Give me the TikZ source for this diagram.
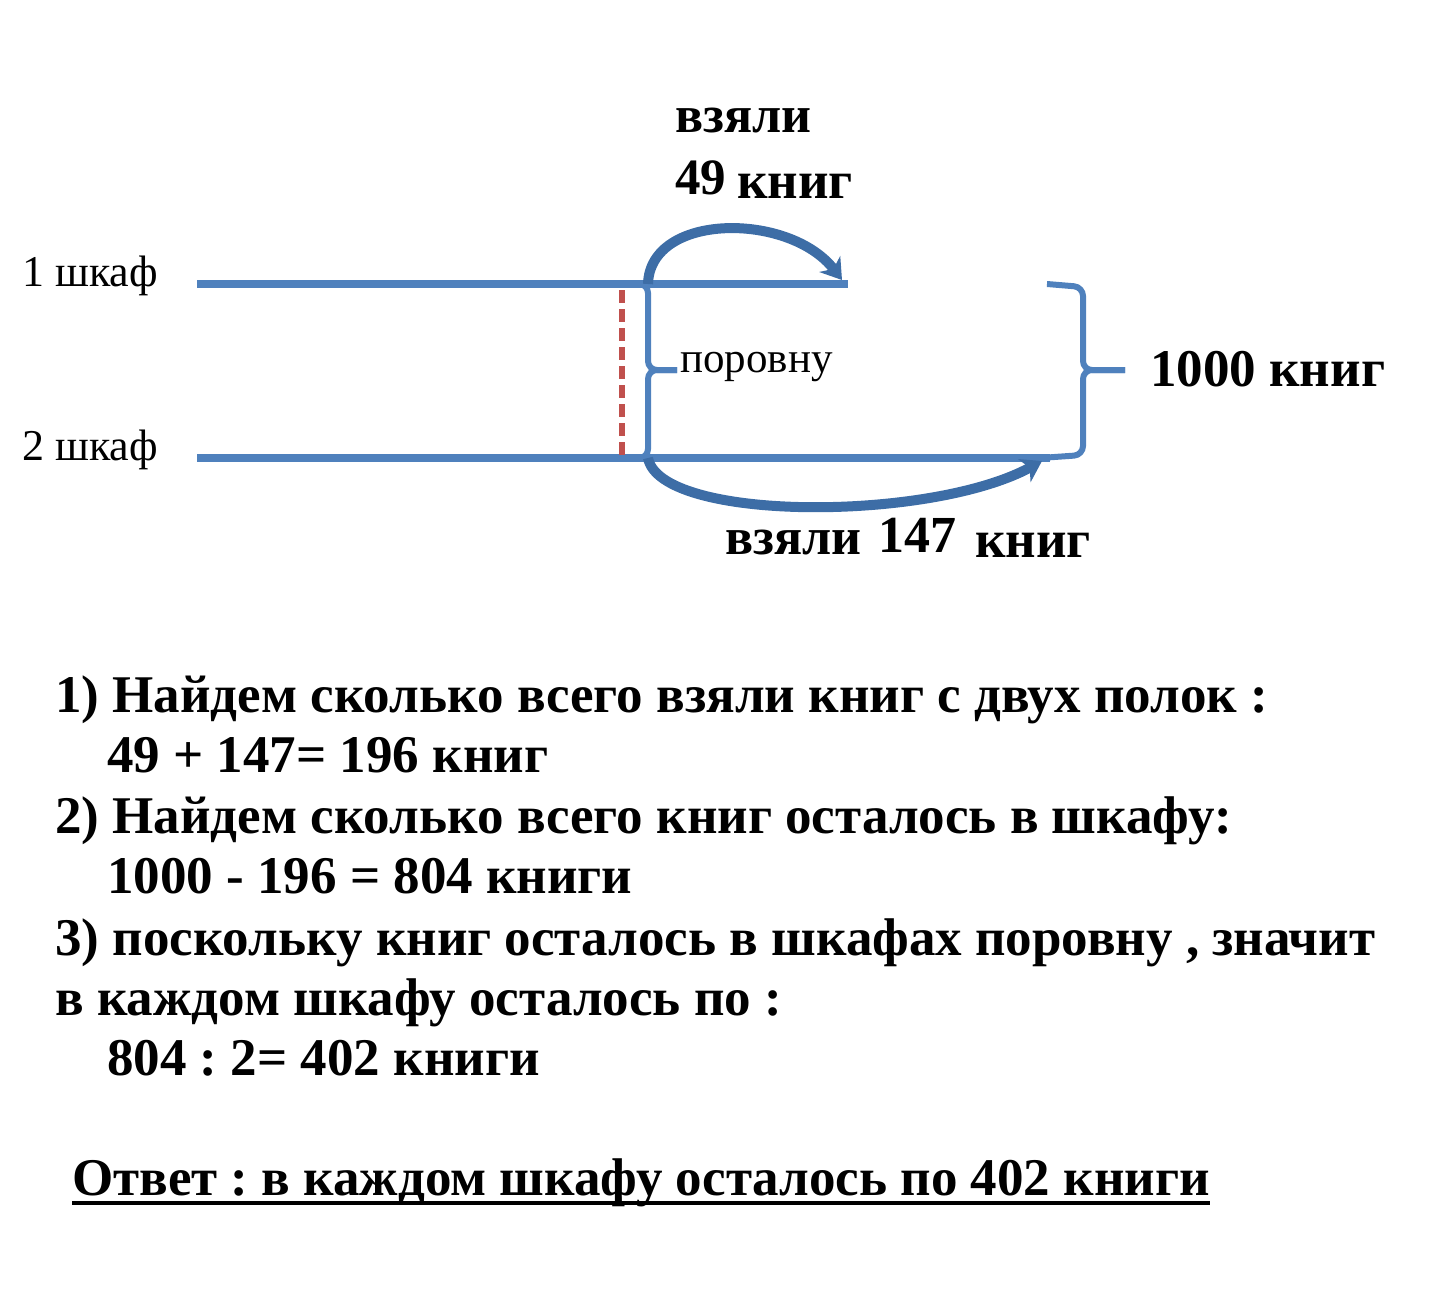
\documentclass[tikz,border=0pt]{standalone}
\usepackage{fontspec}
\setmainfont{Liberation Serif}
\frenchspacing
\usetikzlibrary{arrows.meta}
\definecolor{shelfblue}{HTML}{4F81BD}
\definecolor{arcblue}{HTML}{3D6DA6}
\definecolor{dashred}{HTML}{C0504D}
\tikzset{
  shelf/.style={draw=shelfblue, line width=8pt},
  bline/.style={draw=shelfblue, line width=6pt, rounded corners=9pt},
  took/.style={draw=arcblue, line width=10pt, -{Stealth[length=20pt, width=26pt, inset=6pt]}},
  lbl/.style={inner sep=0pt, anchor=base west, font=\fontsize{44}{52}\selectfont},
  big/.style={inner sep=0pt, anchor=base west, font=\fontsize{53}{60}\selectfont\bfseries},
  stepline/.style={inner sep=0pt, anchor=base west, font=\fontsize{53}{60}\selectfont\bfseries}
}
\begin{document}
\begin{tikzpicture}[x=1pt, y=-1pt]
  \useasboundingbox (0,0) rectangle (1440,1296);

  \coordinate (s1a) at (197,284);
  \coordinate (s1b) at (848,284);
  \coordinate (s2a) at (197,458);
  \coordinate (s2b) at (1050,458);
  \coordinate (mid1) at (648,284);
  \coordinate (mid2) at (648,458);
  \coordinate (eq1) at (622,290);
  \coordinate (eq2) at (622,458);
  \coordinate (end1) at (842,280);
  \coordinate (end2) at (1042,461);

  \node (sh1) [lbl] at (22,286) {1 шкаф};
  \node (sh2) [lbl] at (22,460) {2 шкаф};

  \draw [shelf] (s1a) -- (s1b);
  \draw [shelf] (s2a) -- (s2b);
  \draw [draw=dashred, line width=6pt, dash pattern=on 13pt off 6pt] (eq1) -- (eq2);

  \draw [bline] (622,284) -- (mid1) -- (648,370) -- (677,370);
  \draw [bline] (677,370) -- (648,370) -- (mid2) -- (622,458);
  \node (eq) [lbl, font=\fontsize{43}{50}\selectfont] at (680,372) {поровну};

  \draw [bline] (1047,284) -- (1083,287) -- (1083,370) -- (1125,370);
  \draw [bline] (1125,370) -- (1083,370) -- (1083,455) -- (1040,458);
  \node (total) [big] at (1150,386) {1000 книг};

  \draw [took] (mid1) .. controls (650,212) and (790,212) .. (end1);
  \draw [took] (mid2) .. controls (660,522) and (930,522) .. (end2);

  \node (t1a) [big, font=\fontsize{52}{60}\selectfont\bfseries] at (675,132) {взяли};
  \node (t1b) [big, font=\fontsize{51}{60}\selectfont\bfseries] at (675,194) {49};
  \node (t1c) [big] at (737,198) {книг};

  \node (t2a) [big, font=\fontsize{52}{60}\selectfont\bfseries] at (725,554) {взяли};
  \node (t2b) [big, font=\fontsize{52}{60}\selectfont\bfseries] at (878,552) {147};
  \node (t2c) [big] at (975,557) {книг};

  \node (st1) [stepline] at (55,712) {1) Найдем сколько всего взяли книг с двух полок :};
  \node (st1r) [stepline] at (107,772) {49 + 147= 196 книг};
  \node (st2) [stepline] at (55,833) {2) Найдем сколько всего книг осталось в шкафу:};
  \node (st2r) [stepline] at (107,893) {1000 - 196 = 804 книги};
  \node (st3) [stepline] at (55,955) {3) поскольку книг осталось в шкафах поровну , значит};
  \node (st3b) [stepline] at (55,1015) {в каждом шкафу осталось по :};
  \node (st3r) [stepline] at (107,1075) {804 : 2= 402 книги};
  \node (ans) [stepline] at (72,1195) {Ответ : в каждом шкафу осталось по 402 книги};
  \draw [line width=4pt] ([yshift=-8pt]ans.base west) -- ([yshift=-8pt]ans.base east);
\end{tikzpicture}
\end{document}
